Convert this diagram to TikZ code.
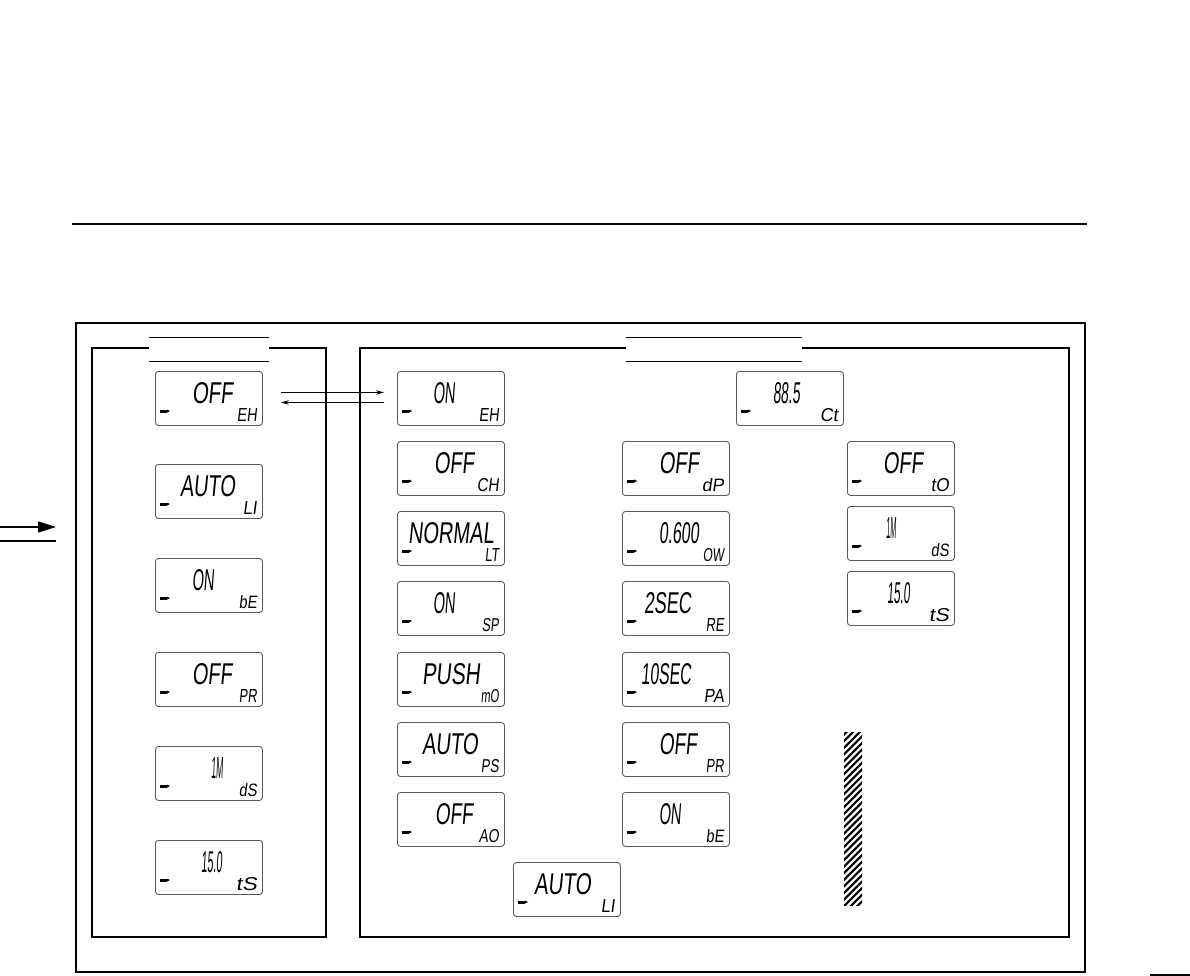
\documentclass[tikz,border=0pt]{standalone}
\usepackage{fontspec}
\usepackage{graphicx}
\usetikzlibrary{calc,arrows.meta}
\newfontfamily\lcdfont[FakeSlant=0.15]{Liberation Sans}
\tikzset{
  frame/.style={line width=2pt},
  thinline/.style={line width=1pt},
  lcd/.style={draw=black!65, line width=0.9pt, rounded corners=3pt, minimum width=107pt, minimum height=54pt, inner sep=0pt},
  lcdtext/.style={inner sep=0pt, outer sep=0pt},
  swaparrow/.style={line width=0.9pt, -{Stealth[length=8pt,width=4.5pt]}},
}
\newcommand\lcdbox[8]{%
  \node[lcd, anchor=north west] (#1) at (#2,#3) {};
  \node[lcdtext, anchor=base west] (#1-m) at ($(#1.north west)+(#4,32)$) {\resizebox{#5pt}{21pt}{\lcdfont #6}};
  \node[lcdtext, anchor=base east] (#1-l) at ($(#1.south east)+(-6,-4)$) {\resizebox{#8pt}{13pt}{\lcdfont #7}};
  \fill ($(#1.north west)+(5,39)$) rectangle ++(7,3);
  \fill ($(#1.north west)+(12,38.5)$) -- ++(3,1.5) -- ++(-3,1.5) -- cycle;
}
\begin{document}
\begin{tikzpicture}[x=1pt,y=-1pt]
\useasboundingbox (0,0) rectangle (1190,976);
% top rule
\draw[line width=1.6pt] (72,224) -- (1087,224);
% outer frame
\draw[frame] (76,323) rectangle (1085,972);
% left panel with title gap
\draw[frame] (149,348) -- (92,348) -- (92,937) -- (326,937) -- (326,348) -- (269,348);
\draw[thinline] (149,337) -- (269,337);
\draw[thinline] (149,361) -- (269,361);
% right panel with title gap
\draw[frame] (626,348) -- (360,348) -- (360,937) -- (1069,937) -- (1069,348) -- (802,348);
\draw[thinline] (626,337) -- (802,337);
\draw[thinline] (626,361) -- (802,361);
% left column
\lcdbox{l1}{155}{371}{37}{41}{OFF}{EH}{20}
\lcdbox{l2}{155}{464}{25}{55}{AUTO}{LI}{14}
\lcdbox{l3}{155}{558}{37}{22}{ON}{bE}{18}
\lcdbox{l4}{155}{652}{37}{40}{OFF}{PR}{18}
\lcdbox{l5}{155}{746}{56}{12}{1M}{dS}{18}
\lcdbox{l6}{155}{840}{46}{21}{15.0}{tS}{21}
% right panel column 1
\lcdbox{r1}{397}{371}{36}{22}{ON}{EH}{20}
\lcdbox{r2}{397}{441}{37}{40}{OFF}{CH}{22}
\lcdbox{r3}{397}{511}{11}{86}{NORMAL}{LT}{14}
\lcdbox{r4}{397}{581}{36}{22}{ON}{SP}{17}
\lcdbox{r5}{397}{652}{25}{58}{PUSH}{mO}{18}
\lcdbox{r6}{397}{722}{25}{56}{AUTO}{PS}{18}
\lcdbox{r7}{397}{792}{38}{38}{OFF}{AO}{20}
% column 2
\lcdbox{s1}{622}{441}{37}{40}{OFF}{dP}{22}
\lcdbox{s2}{622}{511}{37}{40}{0.600}{OW}{21}
\lcdbox{s3}{622}{581}{22}{47}{2SEC}{RE}{18}
\lcdbox{s4}{622}{652}{19}{50}{10SEC}{PA}{20}
\lcdbox{s5}{622}{722}{37}{38}{OFF}{PR}{18}
\lcdbox{s6}{622}{792}{37}{22}{ON}{bE}{18}
% CT box
\lcdbox{ct}{736}{371}{37}{27}{88.5}{Ct}{18}
% column 3
\lcdbox{t1}{847}{441}{36}{40}{OFF}{tO}{18}
\lcdbox{t2}{847}{506}{39}{10}{1M}{dS}{18}
\lcdbox{t3}{847}{571}{40}{23}{15.0}{tS}{20}
% bottom
\lcdbox{u1}{513}{862}{21}{57}{AUTO}{LI}{14}
% swap arrows
\draw[swaparrow, shorten <=18pt, shorten >=13pt] ([yshift=6pt]l1.east) -- ([yshift=6pt]r1.west);
\draw[swaparrow, shorten <=13pt, shorten >=18pt] ([yshift=-4pt]r1.west) -- ([yshift=-4pt]l1.east);
% entry arrow at left
\coordinate (e0) at (0,527);
\coordinate (e1) at (56,527);
\coordinate (f0) at (0,541);
\coordinate (f1) at (56,541);
\draw[line width=1.4pt, -{Triangle[length=18pt,width=11pt]}] (e0) -- (e1);
\draw[line width=1.4pt] (f0) -- (f1);
% hatched bar
\begin{scope}
\clip (844,732) rectangle (862,905);
\foreach \i in {0,6.6,...,200} {
  \draw[line width=2.1pt] (840,732+\i) -- ++(30,-30);
}
\end{scope}
% bottom-right fragment
\coordinate (g0) at (1150,975);
\coordinate (g1) at (1190,975);
\draw[line width=2pt] (g0) -- (g1);
\end{tikzpicture}
\end{document}
